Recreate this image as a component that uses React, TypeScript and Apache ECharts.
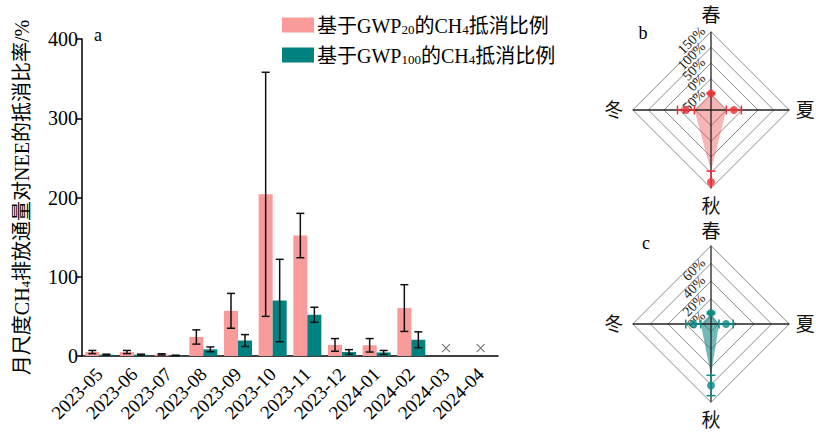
import React, { useEffect, useRef } from 'react';
import * as echarts from 'echarts';

const FONT = 'Liberation Serif, Noto Sans CJK SC, serif';

// Monthly offset ratios (%), mean and standard deviation
const months = ['2023-05', '2023-06', '2023-07', '2023-08', '2023-09', '2023-10', '2023-11', '2023-12', '2024-01', '2024-02', '2024-03', '2024-04'];
const gwp20Mean = [5, 5, 2, 24, 57, 204, 152, 14, 13.5, 60.5, null, null];
const gwp20Err = [2, 2, 0.8, 9, 22, 154, 28, 8, 8.5, 29.5, null, null];
const gwp100Mean = [1.7, 1.7, 0.7, 8.4, 19.5, 70, 52, 5, 4.5, 20.5, null, null];
const gwp100Err = [0.6, 0.6, 0.3, 3, 7.5, 52, 9.5, 3, 2.5, 10, null, null];
const noDataMonths = ['2024-03', '2024-04'];
const noDataLevel = 10;
const yTicks = [0, 100, 200, 300, 400];

// Seasonal offset ratios (%)
const seasons = ['春', '夏', '秋', '冬'];
const seasonGwp20Mean = [-47, -27, 130, -20];
const seasonGwp20Err = [1.5, 24, 35, 27];
const seasonGwp20Ticks = [-50, 0, 50, 100, 150];
const seasonGwp100Mean = [4, 8.5, 61, 11.5];
const seasonGwp100Err = [1, 8, 11.5, 8.5];
const seasonGwp100Ticks = [0, 20, 40, 60];

const PINK = '#FA9B9B';
const TEAL = '#008380';

// direction of each season's spoke in data space: up, right, down, left
const DIRS = [[0, 1], [1, 0], [0, -1], [-1, 0]];

type RadarCfg = {
  idx: number;
  base: number;
  max: number;
  ticks: number[];
  mean: number[];
  err: number[];
  color: string;
  fill: string;
  nameOffsets: number[];
};

function radarSeries(cfg: RadarCfg) {
  const span = cfg.max - cfg.base;
  const toXY = (i: number, v: number) => {
    const r = Math.min(Math.max(v - cfg.base, 0), span);
    return [DIRS[i][0] * r, DIRS[i][1] * r];
  };
  const axisRef = { xAxisIndex: cfg.idx, yAxisIndex: cfg.idx };
  const rings = Array.from(new Set([...cfg.ticks, cfg.max])).sort((a, b) => a - b);

  return [
    // concentric diamonds with their tick labels
    {
      type: 'custom', ...axisRef, silent: true, z: 1,
      data: rings.map((t) => [t, 0]),
      renderItem: (_p: any, api: any) => {
        const v = api.value(0);
        const pts = DIRS.map((_d, i) => api.coord(toXY(i, v)));
        const children: any[] = [
          { type: 'polygon', shape: { points: pts }, style: { fill: 'none', stroke: '#8c8c8c', lineWidth: 1 } },
        ];
        if (cfg.ticks.includes(v)) {
          const top = pts[0];
          children.push({
            type: 'text', x: top[0] - 3, y: top[1] + 2, rotation: Math.PI / 4, z2: 10,
            style: {
              text: `${v}%`, align: 'right', verticalAlign: 'bottom', textAlign: 'right', textVerticalAlign: 'bottom',
              fontSize: 14, fontFamily: FONT, fill: '#222',
            },
          });
        }
        return { type: 'group', children };
      },
    },
    // filled area of the lower bounds
    {
      type: 'custom', ...axisRef, silent: true, z: 2,
      data: [[0, 0]],
      renderItem: (_p: any, api: any) => ({
        type: 'polygon',
        shape: { points: cfg.mean.map((m, i) => api.coord(toXY(i, m - cfg.err[i]))) },
        style: { fill: cfg.fill, stroke: 'none' },
      }),
    },
    // spokes
    {
      type: 'custom', ...axisRef, silent: true, z: 3,
      data: [[0, 0], [1, 0]],
      renderItem: (p: any, api: any) => {
        const a = api.coord(toXY(p.dataIndex === 0 ? 3 : 0, cfg.max));
        const b = api.coord(toXY(p.dataIndex === 0 ? 1 : 2, cfg.max));
        return { type: 'line', shape: { x1: a[0], y1: a[1], x2: b[0], y2: b[1] }, style: { stroke: '#222', lineWidth: 1.3 } };
      },
    },
    // season names
    {
      type: 'custom', ...axisRef, silent: true, z: 3,
      data: seasons.map((_s, i) => [i, 0]),
      renderItem: (p: any, api: any) => {
        const i = p.dataIndex;
        const off = cfg.nameOffsets[i];
        const pt = api.coord(toXY(i, cfg.max));
        return {
          type: 'text', x: pt[0] + DIRS[i][0] * off, y: pt[1] - DIRS[i][1] * off,
          style: {
            text: seasons[i], align: 'center', verticalAlign: 'middle', textAlign: 'center', textVerticalAlign: 'middle',
            fontSize: 19, fontFamily: FONT, fill: '#111',
          },
        };
      },
    },
    // error bars
    {
      type: 'custom', ...axisRef, silent: true, z: 4,
      data: cfg.mean.map((m, i) => [i, m, cfg.err[i]]),
      renderItem: (p: any, api: any) => {
        const i = p.dataIndex;
        const lo = cfg.mean[i] - cfg.err[i];
        const hi = cfg.mean[i] + cfg.err[i];
        const a = api.coord(toXY(i, lo));
        const b = api.coord(toXY(i, hi));
        const half = 4.5;
        const horizontalSpoke = DIRS[i][1] === 0;
        const cap = (pt: number[]) => horizontalSpoke
          ? { type: 'line', shape: { x1: pt[0], y1: pt[1] - half, x2: pt[0], y2: pt[1] + half }, style: { stroke: cfg.color, lineWidth: 1.5 } }
          : { type: 'line', shape: { x1: pt[0] - half, y1: pt[1], x2: pt[0] + half, y2: pt[1] }, style: { stroke: cfg.color, lineWidth: 1.5 } };
        const children: any[] = [
          { type: 'line', shape: { x1: a[0], y1: a[1], x2: b[0], y2: b[1] }, style: { stroke: cfg.color, lineWidth: 1.5 } },
          cap(a),
        ];
        if (hi <= cfg.max) children.push(cap(b));
        return { type: 'group', children };
      },
    },
    // seasonal means
    {
      type: 'scatter', ...axisRef, silent: true, z: 5,
      symbolSize: 8,
      itemStyle: { color: cfg.color },
      data: cfg.mean.map((m, i) => toXY(i, m)),
    },
  ];
}

function radarAxes(idx: number, span: number) {
  return {
    x: { type: 'value', gridIndex: idx, min: -span, max: span, show: false },
    y: { type: 'value', gridIndex: idx, min: -span, max: span, show: false },
  };
}

function buildOption() {
  const radarB: RadarCfg = {
    idx: 1, base: -100, max: 150, ticks: seasonGwp20Ticks,
    mean: seasonGwp20Mean, err: seasonGwp20Err, color: '#EE3237', fill: 'rgba(238,70,70,0.4)',
    nameOffsets: [16, 16, 18, 19],
  };
  const radarC: RadarCfg = {
    idx: 2, base: -8.5, max: 80, ticks: seasonGwp100Ticks,
    mean: seasonGwp100Mean, err: seasonGwp100Err, color: '#0B8A86', fill: 'rgba(0,128,125,0.55)',
    nameOffsets: [14, 16, 18, 19],
  };
  const axB = radarAxes(1, radarB.max - radarB.base);
  const axC = radarAxes(2, radarC.max - radarC.base);

  const barErrSeries = (mean: (number | null)[], err: (number | null)[], shift: number) => ({
    type: 'custom', xAxisIndex: 0, yAxisIndex: 0, silent: true, z: 5,
    data: mean.map((m, i) => (m == null ? null : [i, m, err[i]])).filter((d) => d != null),
    renderItem: (_p: any, api: any) => {
      const i = api.value(0);
      const m = api.value(1);
      const e = api.value(2);
      const a = api.coord([i, m - e]);
      const b = api.coord([i, m + e]);
      const x = a[0] + shift;
      const half = 4;
      const st = { stroke: '#111', lineWidth: 1.5 };
      return {
        type: 'group',
        children: [
          { type: 'line', shape: { x1: x, y1: a[1], x2: x, y2: b[1] }, style: st },
          { type: 'line', shape: { x1: x - half, y1: a[1], x2: x + half, y2: a[1] }, style: st },
          { type: 'line', shape: { x1: x - half, y1: b[1], x2: x + half, y2: b[1] }, style: st },
        ],
      };
    },
  });

  const subRich = { fontSize: 13, fontFamily: FONT, verticalAlign: 'bottom', lineHeight: 22 };

  return {
    animation: false,
    backgroundColor: '#fff',
    textStyle: { fontFamily: FONT, color: '#000' },
    grid: [
      { left: 82, top: 39, width: 416, height: 317 },
      { left: 632.7, top: 31.7, width: 156.6, height: 156.6 },
      { left: 632.7, top: 245.7, width: 156.6, height: 156.6 },
    ],
    legend: {
      orient: 'vertical', left: 277, top: 11, itemWidth: 32, itemHeight: 15, itemGap: 10,
      icon: 'rect', selectedMode: false,
      data: ['GWP20', 'GWP100'],
      formatter: (name: string) => (name === 'GWP20'
        ? '{m|基于GWP}{sub|20}{m|的CH}{sub|4}{m|抵消比例}'
        : '{m|基于GWP}{sub|100}{m|的CH}{sub|4}{m|抵消比例}'),
      textStyle: {
        fontSize: 20, fontFamily: FONT, color: '#000', padding: [0, 0, 0, -2],
        rich: { m: { fontSize: 20, fontFamily: FONT, lineHeight: 22, verticalAlign: 'bottom' }, sub: subRich },
      },
    },
    graphic: [
      { type: 'text', x: 98, y: 35, style: { text: 'a', fontSize: 18, fontFamily: FONT, fill: '#000', align: 'center', verticalAlign: 'middle' } },
      { type: 'text', x: 643, y: 33, style: { text: 'b', fontSize: 18, fontFamily: FONT, fill: '#000', align: 'center', verticalAlign: 'middle' } },
      { type: 'text', x: 646, y: 243, style: { text: 'c', fontSize: 18, fontFamily: FONT, fill: '#000', align: 'center', verticalAlign: 'middle' } },
    ],
    xAxis: [
      {
        type: 'category', gridIndex: 0, data: months,
        axisLine: { lineStyle: { color: '#000', width: 1.5 } },
        axisTick: { alignWithLabel: true, length: 5, lineStyle: { color: '#000', width: 1.5 } },
        axisLabel: { rotate: 45, fontSize: 19, fontFamily: FONT, color: '#000', margin: 15, interval: 0 },
      },
      axB.x,
      axC.x,
    ],
    yAxis: [
      {
        type: 'value', gridIndex: 0, min: yTicks[0], max: yTicks[yTicks.length - 1], interval: 100,
        axisLine: { show: true, lineStyle: { color: '#000', width: 1.5 } },
        axisTick: { show: true, length: 5, lineStyle: { color: '#000', width: 1.5 } },
        axisLabel: { fontSize: 20, fontFamily: FONT, color: '#000', margin: 4 },
        splitLine: { show: false },
        name: '{m|月尺度CH}{sub|4}{m|排放通量对NEE的抵消比率/%}',
        nameLocation: 'middle', nameGap: 50, nameRotate: 90,
        nameTextStyle: {
          fontSize: 20, fontFamily: FONT, color: '#000',
          rich: { m: { fontSize: 20, fontFamily: FONT, lineHeight: 22, verticalAlign: 'bottom' }, sub: subRich },
        },
      },
      axB.y,
      axC.y,
    ],
    series: [
      {
        type: 'bar', name: 'GWP20', xAxisIndex: 0, yAxisIndex: 0, data: gwp20Mean,
        barWidth: 14, barGap: '0%', itemStyle: { color: PINK },
      },
      {
        type: 'bar', name: 'GWP100', xAxisIndex: 0, yAxisIndex: 0, data: gwp100Mean,
        barWidth: 14, barGap: '0%', itemStyle: { color: TEAL },
      },
      barErrSeries(gwp20Mean, gwp20Err, -7),
      barErrSeries(gwp100Mean, gwp100Err, 7),
      {
        type: 'scatter', xAxisIndex: 0, yAxisIndex: 0, silent: true,
        symbol: 'path://M0,0L10,10M10,0L0,10', symbolSize: 8,
        itemStyle: { color: 'none', borderColor: '#555', borderWidth: 1.2 },
        data: noDataMonths.map((m) => [m, noDataLevel]),
      },
      ...radarSeries(radarB),
      ...radarSeries(radarC),
    ],
  };
}

export default function App() {
  const ref = useRef<HTMLDivElement>(null);
  useEffect(() => {
    const chart = echarts.init(ref.current!, null, { renderer: 'svg' });
    chart.setOption(buildOption() as any);
    return () => chart.dispose();
  }, []);
  return (
    <div
      ref={ref}
      style={{ position: 'fixed', left: 0, top: 0, width: 816, height: 432, background: '#fff' }}
    />
  );
}
